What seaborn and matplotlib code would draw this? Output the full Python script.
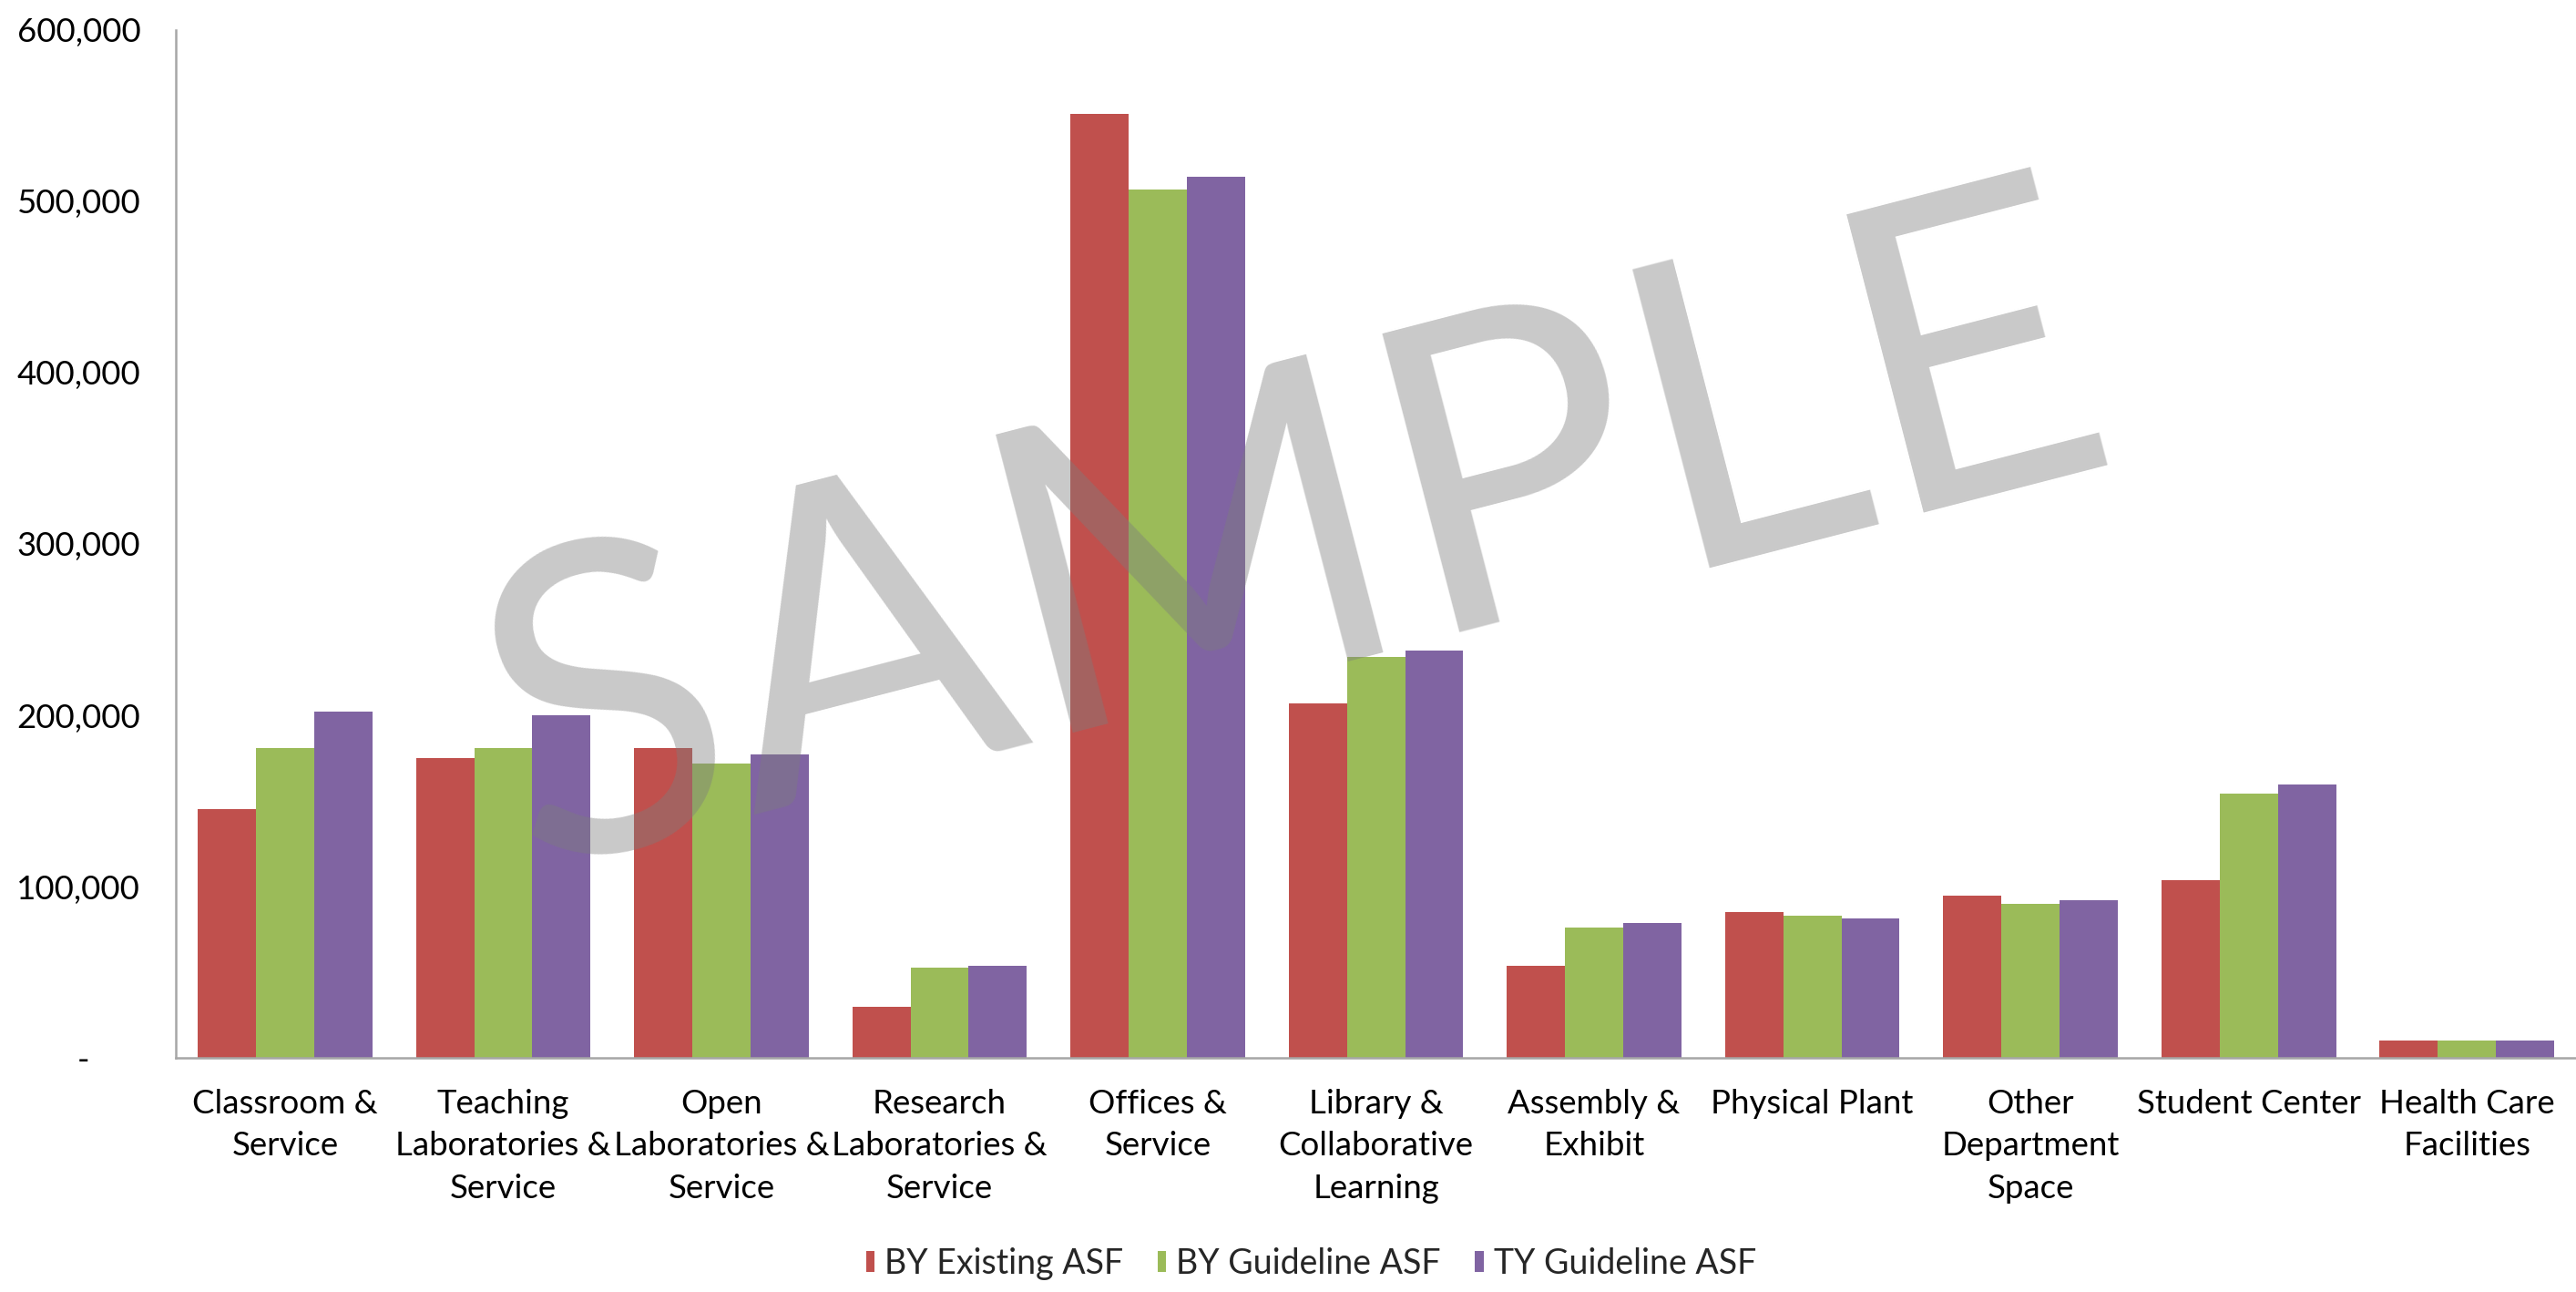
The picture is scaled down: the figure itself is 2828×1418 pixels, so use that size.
import matplotlib
matplotlib.use("Agg")
import matplotlib.pyplot as plt
import matplotlib.ticker as mticker
from matplotlib import font_manager
import seaborn as sns
import pandas as pd

# space categories, as they appear on the x axis
categories = [
    "Classroom & Service",
    "Teaching Laboratories & Service",
    "Open Laboratories & Service",
    "Research Laboratories & Service",
    "Offices & Service",
    "Library & Collaborative Learning",
    "Assembly & Exhibit",
    "Physical Plant",
    "Other Department Space",
    "Student Center",
    "Health Care Facilities",
]
tick_labels = [
    "Classroom &\nService",
    "Teaching\nLaboratories &\nService",
    "Open\nLaboratories &\nService",
    "Research\nLaboratories &\nService",
    "Offices &\nService",
    "Library &\nCollaborative\nLearning",
    "Assembly &\nExhibit",
    "Physical Plant",
    "Other\nDepartment\nSpace",
    "Student Center",
    "Health Care\nFacilities",
]

series = ["BY Existing ASF", "BY Guideline ASF", "TY Guideline ASF"]
by_existing = [145500, 175000, 181000, 30000, 551000, 207000, 54000, 85000, 95000, 104000, 10300]
by_guideline = [181000, 181000, 172000, 53000, 507000, 234000, 76000, 83000, 90000, 154500, 10300]
ty_guideline = [202000, 200000, 177000, 54000, 514000, 238000, 79000, 81500, 92000, 159500, 10300]

colors = ["#C0504D", "#9BBB59", "#8064A2"]

rows = []
for name, vals in zip(series, [by_existing, by_guideline, ty_guideline]):
    for cat, v in zip(categories, vals):
        rows.append({"category": cat, "series": name, "value": v})
df = pd.DataFrame(rows)

# pick a narrow-ish face close to Calibri
available = {f.name for f in font_manager.fontManager.ttflist}
main_font = next((f for f in ["Liberation Sans Narrow", "Lato", "Roboto"] if f in available),
                 "DejaVu Sans")

sns.set_theme(style="white")
plt.rcParams["font.family"] = [main_font, "DejaVu Sans"]

fig = plt.figure(figsize=(14.14, 7.09), dpi=200)
ax = fig.add_axes([0.0683, 0.181, 0.9317, 0.796])

sns.barplot(data=df, x="category", y="value", hue="series", order=categories,
            hue_order=series, palette=colors, saturation=1, errorbar=None,
            width=0.8, linewidth=0, ax=ax)

ax.set_ylim(0, 600000)
ax.set_xlim(-0.5, len(categories) - 0.5)
ax.yaxis.set_major_locator(mticker.MultipleLocator(100000))
ax.yaxis.set_major_formatter(mticker.FuncFormatter(
    lambda v, p: "-      " if v == 0 else f"{int(v):,}"))
ax.set_xticks(range(len(categories)))
ax.set_xticklabels(tick_labels, linespacing=1.5)
ax.tick_params(axis="x", length=0, pad=12, labelsize=13.2, colors="#000000")
ax.tick_params(axis="y", length=0, pad=14, labelsize=13.2, colors="#000000")
ax.set_xlabel("")
ax.set_ylabel("")

for side in ["top", "right"]:
    ax.spines[side].set_visible(False)
for side in ["left", "bottom"]:
    ax.spines[side].set_color("#a6a6a6")
    ax.spines[side].set_linewidth(0.9)

ax.legend_.remove()
handles, labels = ax.get_legend_handles_labels()
fig.legend(handles, labels, loc="center", bbox_to_anchor=(0.509, 0.022),
           ncol=3, frameon=False, fontsize=13.5, handlelength=0.25,
           handleheight=0.6, handletextpad=0.3, columnspacing=1.0)

# watermark
fig.text(0.503, 0.578, "SAMPLE", fontsize=170, fontweight="normal",
         color=(125 / 255, 125 / 255, 125 / 255), alpha=0.42, rotation=14.5,
         rotation_mode="anchor", ha="center", va="center", zorder=10)

fig.savefig("out.png", dpi=200)
